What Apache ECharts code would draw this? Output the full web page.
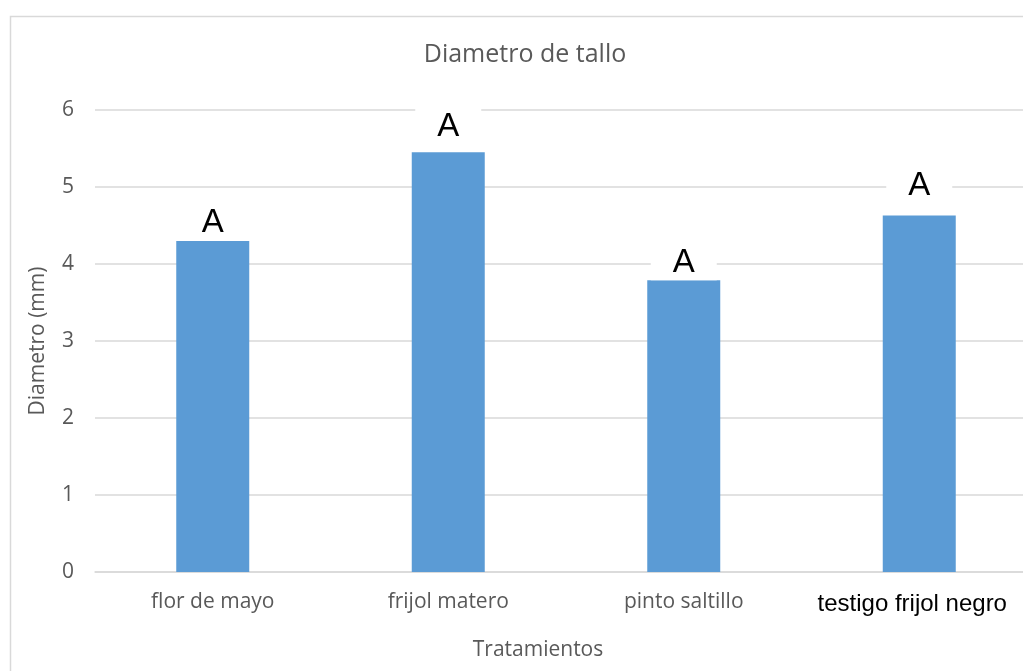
<!DOCTYPE html>
<html>
<head>
<meta charset="utf-8">
<script src="https://cdn.jsdelivr.net/npm/echarts@6/dist/echarts.min.js"></script>
<style>html,body{margin:0;padding:0;background:#fff;overflow:hidden;}#c{width:1045px;height:671px;}</style>
</head>
<body>
<div id="c"></div>
<script>
var categories = ['flor de mayo', 'frijol matero', 'pinto saltillo', 'testigo frijol negro'];
var values = [4.30, 5.45, 3.79, 4.63];
var letters = ['A', 'A', 'A', 'A'];
var yTicks = [0, 1, 2, 3, 4, 5, 6];

var labelGaps = [0, 8, 0, 12];
var chart = echarts.init(document.getElementById('c'));
var grey = '#595959';
var option = {
  animation: false,
  backgroundColor: '#fff',
  title: {
    text: 'Diametro de tallo',
    left: 520, top: 37, textAlign: 'center',
    textStyle: {fontFamily: 'Open Sans', fontSize: 25, fontWeight: 'normal', color: grey}
  },
  graphic: [{
    type: 'rect', left: 8, top: 14, silent: true,
    shape: {width: 1100, height: 700},
    style: {fill: 'none', stroke: '#d9d9d9', lineWidth: 1.5}
  }],
  grid: {left: 95, top: 110, width: 942, height: 462},
  xAxis: {
    type: 'category',
    data: categories.map(function (c, i) {
      return i === 3 ? {value: c, textStyle: {fontFamily: 'Liberation Sans', fontSize: 24, color: '#000', padding: [0, 14, 0, 0]}} : c;
    }),
    axisLine: {lineStyle: {color: '#d9d9d9', width: 1.5}},
    axisTick: {show: false},
    axisLabel: {fontFamily: 'Open Sans', fontSize: 21, color: grey, margin: 20, interval: 0},
    name: 'Tratamientos', nameLocation: 'middle', nameGap: 68,
    nameTextStyle: {fontFamily: 'Open Sans', fontSize: 21, color: grey, padding: [0, 56, 0, 0]}
  },
  yAxis: {
    type: 'value', min: yTicks[0], max: yTicks[yTicks.length - 1], interval: 1,
    axisLine: {show: false}, axisTick: {show: false},
    splitLine: {lineStyle: {color: '#d9d9d9', width: 1.5}},
    axisLabel: {fontFamily: 'Open Sans', fontSize: 21, color: grey, margin: 21},
    name: 'Diametro (mm)', nameLocation: 'middle', nameGap: 46,
    nameTextStyle: {fontFamily: 'Open Sans', fontSize: 21, color: grey}
  },
  series: [{
    type: 'bar',
    barWidth: 73,
    itemStyle: {color: '#5B9BD5'},
    data: values.map(function (v, i) {
      return {value: v, label: {distance: labelGaps[i], formatter: letters[i]}};
    }),
    label: {
      show: true, position: 'top',
      fontFamily: 'Liberation Sans', fontSize: 33, color: '#000',
      backgroundColor: '#fff', padding: [4, 22, 1, 22]
    }
  }]
};
chart.setOption(option);
</script>
</body>
</html>
